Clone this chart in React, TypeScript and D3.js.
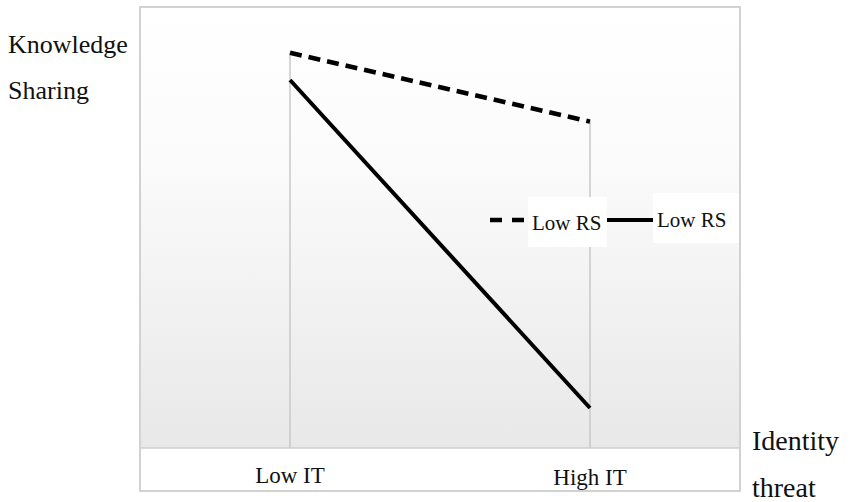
import React from "react";
import * as d3 from "d3";

const categories = ["Low IT", "High IT"];
const seriesNames = ["Low RS", "Low RS"];
const dashedValues = [4.94, 4.08];
const solidValues = [4.6, 0.5];

const W = 851;
const H = 502;
const box = { left: 140, right: 740, top: 7, bottom: 491, base: 448 };

export default function App() {
  const x = d3.scalePoint<string>().domain(categories).range([box.left, box.right]).padding(0.5);
  const y = d3.scaleLinear().domain([0, 5]).range([box.base, 48]);
  const line = d3
    .line<[string, number]>()
    .x((d) => x(d[0]) as number)
    .y((d) => y(d[1]));
  const dashed = categories.map((c, i) => [c, dashedValues[i]] as [string, number]);
  const solid = categories.map((c, i) => [c, solidValues[i]] as [string, number]);
  const font = "'Liberation Serif', 'Times New Roman', serif";

  return (
    <svg
      width={W}
      height={H}
      style={{ position: "absolute", left: 0, top: 0, background: "#fff" }}
      fontFamily={font}
    >
      <defs>
        <linearGradient id="bg" x1="0" y1="0" x2="0" y2="1">
          <stop offset="0%" stopColor="#ffffff" />
          <stop offset="35%" stopColor="#fbfbfb" />
          <stop offset="100%" stopColor="#e8e8e8" />
        </linearGradient>
      </defs>
      <rect
        x={box.left}
        y={box.top}
        width={box.right - box.left}
        height={box.base - box.top}
        fill="url(#bg)"
      />
      <rect
        x={box.left}
        y={box.top}
        width={box.right - box.left}
        height={box.bottom - box.top}
        fill="none"
        stroke="#d2d2d2"
        strokeWidth={2}
      />
      <line x1={box.left} x2={box.right} y1={box.base} y2={box.base} stroke="#cfcfcf" strokeWidth={1.5} />
      {categories.map((c, i) => (
        <line
          key={c}
          x1={x(c) as number}
          x2={x(c) as number}
          y1={y(Math.max(dashedValues[i], solidValues[i]))}
          y2={box.base}
          stroke="#c8c8c8"
          strokeWidth={1.5}
        />
      ))}
      <path d={line(dashed) as string} fill="none" stroke="#000" strokeWidth={4.5} strokeDasharray="12 7" />
      <path d={line(solid) as string} fill="none" stroke="#000" strokeWidth={4} />
      {categories.map((c, i) => (
        <text key={c} x={x(c) as number} y={i === 0 ? 483 : 485} textAnchor="middle" fontSize={23} fill="#111">
          {c}
        </text>
      ))}
      <line x1={490} x2={526} y1={220} y2={220} stroke="#000" strokeWidth={4.5} strokeDasharray="12 10" />
      <rect x={528} y={197} width={79} height={50} fill="#fff" />
      <text x={532} y={230} fontSize={21} fill="#111">{seriesNames[0]}</text>
      <line x1={607} x2={653} y1={220} y2={220} stroke="#000" strokeWidth={4} />
      <rect x={653} y={193} width={86} height={50} fill="#fff" />
      <text x={657} y={227} fontSize={21} fill="#111">{seriesNames[1]}</text>
      <text x={8} y={53} fontSize={26} fill="#111">Knowledge</text>
      <text x={8} y={99} fontSize={26} fill="#111">Sharing</text>
      <text x={752} y={450} fontSize={28} fill="#111">Identity</text>
      <text x={752} y={497} fontSize={28} fill="#111">threat</text>
    </svg>
  );
}
